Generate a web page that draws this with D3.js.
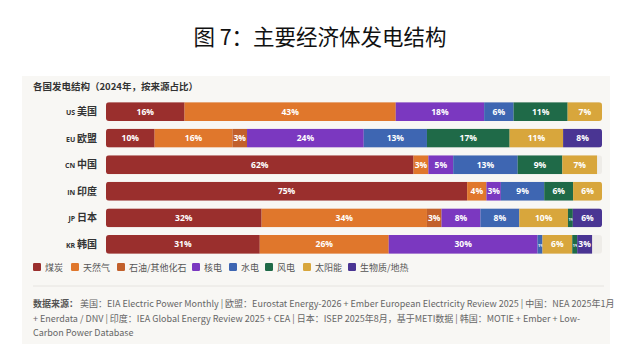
<!DOCTYPE html>
<html><head><meta charset="utf-8">
<script src="https://cdn.jsdelivr.net/npm/d3@7"></script>
<style>
html,body{margin:0;padding:0;background:#fff;}
svg{display:block;font-family:"Noto Sans CJK SC","Noto Sans",sans-serif;}
</style></head>
<body>
<svg id="chart" width="640" height="364"></svg>
<script>
const codes = ["US","EU","CN","IN","JP","KR"];
const names = ["美国","欧盟","中国","印度","日本","韩国"];
const sources = ["煤炭","天然气","石油/其他化石","核电","水电","风电","太阳能","生物质/地热"];
const colors = ["#9A2F2D","#E0772C","#C2602B","#7B38C0","#3E66B2","#1F6A48","#D8A63C","#4A3593"];
// values per source, one per country (%)
const coal    = [16,10,62,75,32,31];
const gas     = [43,16, 3, 4,34,26];
const oil     = [ 0, 3, 0, 0, 3, 0];
const nuclear = [18,24, 5, 3, 8,30];
const hydro   = [ 6,13,13, 9, 8, 1];
const wind    = [11,17, 9, 6, 1, 1];
const solar   = [ 7,11, 7, 6,10, 6];
const bio     = [ 0, 8, 0, 0, 6, 3];
// stacking order per country (indices into sources)
const orderDefault = [0,1,2,3,4,5,6,7];
const orderSolarFirst = [0,1,2,3,4,6,5,7];
const rowOrder = [orderDefault,orderDefault,orderDefault,orderDefault,orderSolarFirst,orderSolarFirst];
const titleText = "图 7：主要经济体发电结构";
const subtitleText = "各国发电结构（2024年，按来源占比）";
const footLines = [
  ["数据来源：", " 美国：EIA Electric Power Monthly | 欧盟：Eurostat Energy-2026 + Ember European Electricity Review 2025 |  中国：NEA 2025年1月"],
  ["", "+ Enerdata / DNV | 印度：IEA Global Energy Review 2025 + CEA |  日本：ISEP 2025年8月，基于METI数据 | 韩国：MOTIE + Ember + Low-"],
  ["", "Carbon Power Database"]
];

const series = [coal,gas,oil,nuclear,hydro,wind,solar,bio];
const svg = d3.select("#chart");

svg.append("text").attr("x",320).attr("y",45).attr("text-anchor","middle")
  .attr("font-size",21.5).attr("font-weight",400).attr("fill","#111").text(titleText);

svg.append("rect").attr("x",22).attr("y",76).attr("width",588).attr("height",268).attr("fill","#F8F7F4");

svg.append("text").attr("x",33).attr("y",90).attr("font-size",9.5).attr("font-weight",700)
  .attr("fill","#333").text(subtitleText);

const x0 = 106, x1 = 602;
const y = d3.scaleBand().domain(codes).range([99,257]).paddingInner(0.29).paddingOuter(0.12);
const defs = svg.append("defs");

codes.forEach((c,i)=>{
  const vals = rowOrder[i].map(k=>({k, v: series[k][i]})).filter(d=>d.v>0);
  const total = d3.sum(vals,d=>d.v);
  const x = d3.scaleLinear().domain([0, Math.max(100,total)]).range([x0,x1]);
  let acc = 0;
  vals.forEach(d=>{ d.a = acc; acc += d.v; d.b = acc; });
  const yy = y(c), h = y.bandwidth();
  const cid = "clip"+c;
  defs.append("clipPath").attr("id",cid).append("rect")
    .attr("x",x0).attr("y",yy).attr("width",x1-x0).attr("height",h).attr("rx",3);
  const g = svg.append("g").attr("clip-path",`url(#${cid})`);
  g.append("rect").attr("x",x0).attr("y",yy).attr("width",x1-x0).attr("height",h).attr("fill","#EEECE8");
  vals.forEach((d,j)=>{
    const sid = "seg"+c+j;
    const w = x(d.b)-x(d.a);
    defs.append("clipPath").attr("id",sid).append("rect")
      .attr("x",x(d.a)).attr("y",yy).attr("width",w).attr("height",h);
    g.append("rect").attr("x",x(d.a)).attr("y",yy).attr("width",w).attr("height",h)
      .attr("fill",colors[d.k]);
    const narrow = w < 10;
    g.append("text").attr("clip-path",`url(#${sid})`)
      .attr("x", narrow ? x(d.a)+0.5 : (x(d.a)+x(d.b))/2).attr("y",yy+h/2+3)
      .attr("text-anchor", narrow ? "start" : "middle")
      .attr("font-size", narrow ? 3.8 : 8.5).attr("font-weight",700).attr("fill","#fff")
      .attr("font-family","'Open Sans','Noto Sans',sans-serif")
      .text(d.v+"%");
  });
  const lab = svg.append("text").attr("x",97).attr("y",yy+h/2+3.5).attr("text-anchor","end")
    .attr("fill","#333").attr("font-weight",700);
  lab.append("tspan").attr("font-size",7).attr("font-family","'Open Sans',sans-serif").text(c+" ");
  lab.append("tspan").attr("font-size",10).text(names[i]);
});

// legend
const legendX = [33,71,117,192,229,265,303,348];
sources.forEach((s,k)=>{
  svg.append("rect").attr("x",legendX[k]).attr("y",263).attr("width",8).attr("height",8).attr("rx",1.2).attr("fill",colors[k]);
  svg.append("text").attr("x",legendX[k]+12).attr("y",270.5).attr("font-size",9).attr("fill","#555").text(s);
});

svg.append("line").attr("x1",33).attr("x2",604).attr("y1",286).attr("y2",286).attr("stroke","#E6E4E0").attr("stroke-width",1);

footLines.forEach((ln,i)=>{
  const t = svg.append("text").attr("x",33).attr("y",307+i*14.5).attr("font-size",9.0).attr("fill","#666");
  if (ln[0]) t.append("tspan").attr("font-weight",700).attr("fill","#555").text(ln[0]);
  t.append("tspan").text(ln[1]);
});
</script>
</body></html>
